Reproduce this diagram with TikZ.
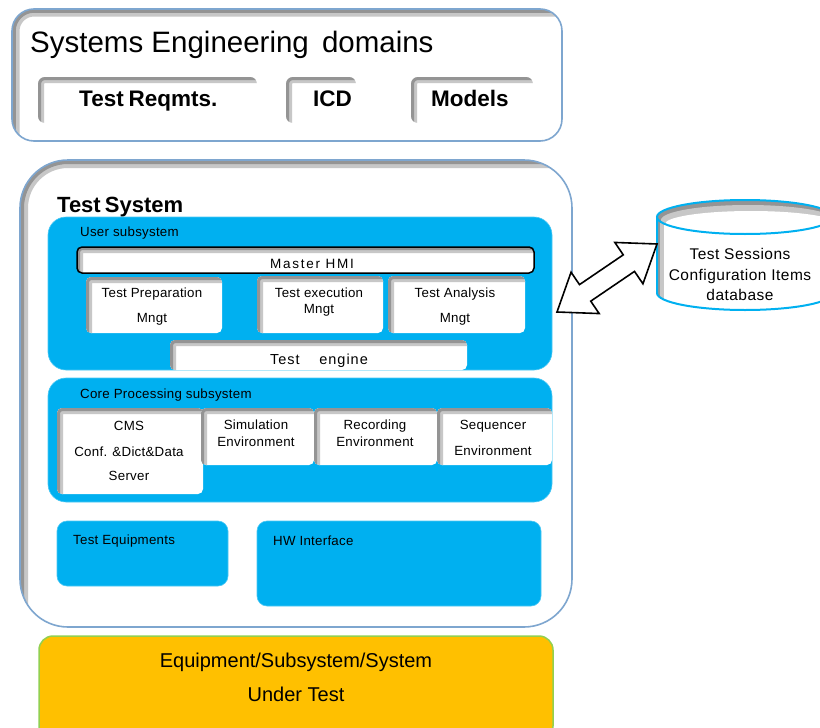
\documentclass[tikz,border=0pt]{standalone}
\usepackage{fontspec}
\setmainfont{Liberation Sans}
\usetikzlibrary{calc}
\definecolor{cyanbox}{HTML}{00B0F0}
\definecolor{frameblue}{HTML}{7EA6CF}
\definecolor{orangebox}{HTML}{FFC000}
\definecolor{greenframe}{HTML}{92D050}
\newcommand\fsl[2]{\fontsize{#2}{#2}\selectfont\addfontfeature{LetterSpace=#1}}
\newcommand\fs[1]{\fontsize{#1}{#1}\selectfont}
\begin{document}
\begin{tikzpicture}[x=1pt,y=-1pt,
  insh/.style 2 args={rounded corners=#2,path picture={
     \draw[black!22,line width=#1,rounded corners=#2]
       (path picture bounding box.south west) -- (path picture bounding box.north west) -- (path picture bounding box.north east);
     \draw[black!42,line width=0.5*#1,rounded corners=#2]
       (path picture bounding box.south west) -- (path picture bounding box.north west) -- (path picture bounding box.north east);
  }},
  base/.style={inner sep=0pt,outer sep=0pt,anchor=north west},
  frame/.style={base,draw=frameblue,line width=1.6pt,fill=white},
  wbox/.style={base,fill=white,insh={12pt}{5pt}},
  cbox/.style={base,fill=cyanbox,draw=cyanbox!70!white,line width=0.6pt},
  txt/.style={inner sep=0pt,anchor=base,font={\fsl{2}{13.3}}},
  lbl/.style={inner sep=0pt,anchor=base west,font={\fsl{2}{13.3}}},
  dbline/.style={draw=cyanbox,line width=2pt},
]
\useasboundingbox (0,0) rectangle (820,728);

% Systems Engineering domains
\node[frame,insh={15pt}{22pt},minimum width=550pt,minimum height=132pt] (se) at (12,9) {};
\node[inner sep=0pt,anchor=base west,font=\fs{29.5}] (setitle) at (30,52) {Systems Engineering\, domains};
\node[wbox,insh={12pt}{7pt},minimum width=219pt,minimum height=46pt] (treq) at (38,77) {};
\node[wbox,insh={12pt}{7pt},minimum width=70pt,minimum height=46pt] (icd) at (286,77) {};
\node[wbox,insh={12pt}{7pt},minimum width=122pt,minimum height=46pt] (mod) at (411,77) {};
\node[inner sep=0pt,anchor=base west,font=\fs{22.5}\bfseries] (treqt) at (79,106) {Test\hspace{-1.5pt} Reqmts.};
\node[inner sep=0pt,anchor=base west,font=\fs{22.5}\bfseries] (icdt) at (313,106) {ICD};
\node[inner sep=0pt,anchor=base west,font=\fs{22.5}\bfseries] (modt) at (431,106) {Models};

% Test System
\node[frame,insh={16pt}{48pt},minimum width=552pt,minimum height=467pt] (ts) at (20,160) {};
\node[inner sep=0pt,anchor=base west,font=\fs{22}\bfseries] (tstitle) at (57,212) {Test\hspace{-2pt} System};

% User subsystem
\node[cbox,rounded corners=18pt,minimum width=504pt,minimum height=153pt] (us) at (48,217) {};
\node[lbl] (ust) at (80,236) {User subsystem};
\node[wbox,draw=black,line width=1.5pt,minimum width=457pt,minimum height=26pt] (hmi) at (77,247) {};
\node[txt,font={\fsl{13}{13.5}}] (hmit) at (312,268) {Master HMI};
\node[wbox,minimum width=136pt,minimum height=56pt] (tp) at (86,277) {};
\node[wbox,minimum width=126pt,minimum height=57pt] (te) at (257,276) {};
\node[wbox,minimum width=137pt,minimum height=57pt] (ta) at (388,276) {};
\node[txt] (tp1) at (152,297) {Test Preparation};
\node[txt] (tp2) at (152,322) {Mngt};
\node[txt] (te1) at (319,297) {Test execution};
\node[txt] (te2) at (319,313) {Mngt};
\node[txt] (ta1) at (455,297) {Test Analysis};
\node[txt] (ta2) at (455,322) {Mngt};
\node[wbox,minimum width=297pt,minimum height=30pt] (eng) at (170,340) {};
\node[txt,font={\fsl{7}{14.5}}] (engt) at (319,364) {Test \quad engine};

% Core processing subsystem
\node[cbox,rounded corners=18pt,minimum width=504pt,minimum height=124pt] (cp) at (48,378) {};
\node[lbl] (cpt) at (80,398) {Core Processing subsystem};
\node[wbox,minimum width=146pt,minimum height=86pt] (cms) at (57,408) {};
\node[wbox,minimum width=113pt,minimum height=57pt] (sim) at (201,408) {};
\node[wbox,minimum width=123pt,minimum height=57pt] (rec) at (314,408) {};
\node[wbox,minimum width=115pt,minimum height=57pt] (seq) at (437,408) {};
\node[txt] (cms1) at (129,430) {CMS};
\node[txt] (cms2) at (129,456) {Conf. \&Dict\&Data};
\node[txt] (cms3) at (129,480) {Server};
\node[txt] (sim1) at (256,429) {Simulation};
\node[txt] (sim2) at (256,446) {Environment};
\node[txt] (rec1) at (375,429) {Recording};
\node[txt] (rec2) at (375,446) {Environment};
\node[txt] (seq1) at (493,429) {Sequencer};
\node[txt] (seq2) at (493,455) {Environment};

% Test equipments / HW interface
\node[cbox,rounded corners=10pt,minimum width=171pt,minimum height=65pt] (teq) at (57,521) {};
\node[lbl] (teqt) at (73,544) {Test Equipments};
\node[cbox,rounded corners=10pt,minimum width=284pt,minimum height=85pt] (hw) at (257,521) {};
\node[lbl] (hwt) at (273,545) {HW Interface};

% System under test
\node[base,fill=orangebox,draw=greenframe,line width=1.5pt,rounded corners=14pt,minimum width=514pt,minimum height=104pt] (sut) at (39,636) {};
\node[txt,font=\fs{20}] (sut1) at (296,667) {Equipment/Subsystem/System};
\node[txt,font=\fs{20}] (sut2) at (296,701) {Under Test};

% Database (cylinder)
\coordinate (dbc) at (745,255);
\begin{scope}
  \clip (657,217) -- (657,293) arc[start angle=180,end angle=360,x radius=88pt,y radius=17pt]
        -- (833,217) arc[start angle=0,end angle=180,x radius=88pt,y radius=17pt] -- cycle;
  \fill[white] (640,190) rectangle (840,320);
  \fill[black!22] (655,200) rectangle (664,320);
  \fill[black!42] (655,200) rectangle (660,320);
\end{scope}
\begin{scope}
  \clip (745,217) ellipse [x radius=88pt,y radius=17pt];
  \fill[black!22] (745,217) ellipse [x radius=88pt,y radius=17pt];
  \fill[black!42] (745,217) ellipse [x radius=88pt,y radius=17pt];
  \fill[black!22] (748,220) ellipse [x radius=87pt,y radius=15pt];
  \fill[white] (751,224) ellipse [x radius=86pt,y radius=13pt];
\end{scope}
\draw[dbline] (657,217) -- (657,293) arc[start angle=180,end angle=360,x radius=88pt,y radius=17pt]
        -- (833,217);
\draw[dbline] (745,217) ellipse [x radius=88pt,y radius=17pt];
\node[txt,font={\fsl{3}{15.5}}] (db1) at (740,259) {Test Sessions};
\node[txt,font={\fsl{3}{15.5}}] (db2) at (740,280) {Configuration Items};
\node[txt,font={\fsl{3}{15.5}}] (db3) at (740,300) {database};

% Double block arrow
\coordinate (arA) at (557,312);
\coordinate (arB) at (657,244);
\path ($(arA)!34pt!(arB)$) coordinate (hA) ($(arB)!34pt!(arA)$) coordinate (hB);
\draw[fill=white,draw=black,line width=1.6pt,line join=miter]
  (arA) -- ($(hA)!25pt!90:(arB)$) -- ($(hA)!10pt!90:(arB)$) -- ($(hB)!10pt!-90:(arA)$)
  -- ($(hB)!25pt!-90:(arA)$) -- (arB) -- ($(hB)!25pt!90:(arA)$) -- ($(hB)!10pt!90:(arA)$)
  -- ($(hA)!10pt!-90:(arB)$) -- ($(hA)!25pt!-90:(arB)$) -- cycle;
\end{tikzpicture}
\end{document}
